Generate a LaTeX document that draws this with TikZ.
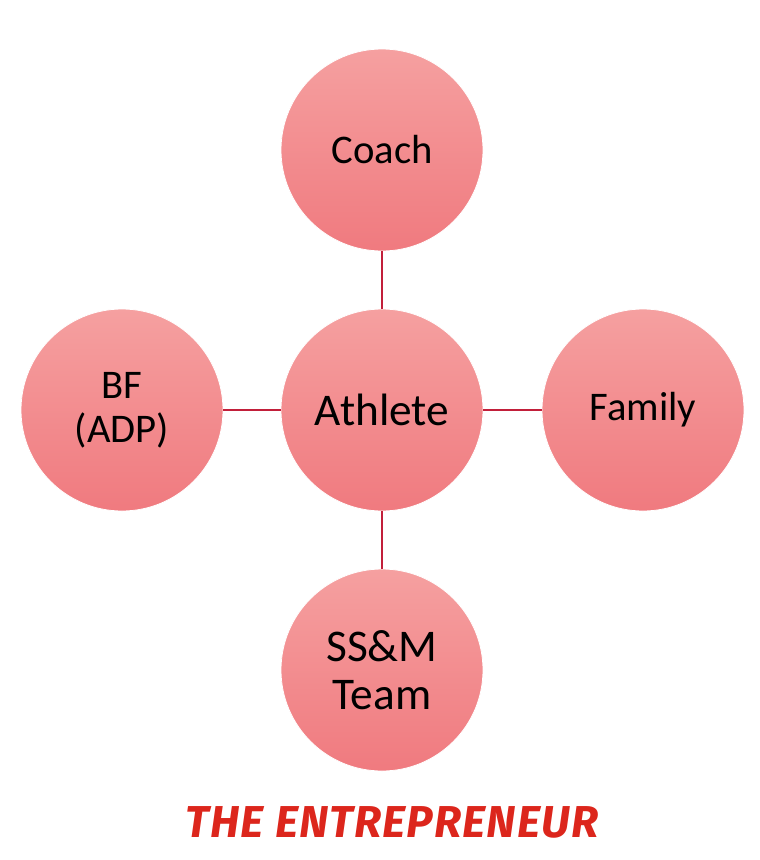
\documentclass[tikz,border=0pt]{standalone}
\usepackage{fontspec}
\setmainfont{Carlito}
\newfontfamily\titlefont[LetterSpace=2.5]{Fira Sans}
\usepackage{xcolor}
\usepackage{tikz}
\usetikzlibrary{positioning, shadings}

\definecolor{bubbletop}{HTML}{F5A0A0}
\definecolor{bubblebot}{HTML}{F07A7F}
\definecolor{linkred}{HTML}{C21F3A}
\definecolor{titlered}{HTML}{DC261C}

\begin{document}
\begin{tikzpicture}[x=0.75pt, y=-0.75pt,
    bubble/.style={circle, minimum size=151.5pt, inner sep=0pt, align=center,
      top color=bubbletop, bottom color=bubblebot, draw=white, line width=0.6pt,
      font=\fontsize{30.5}{33}\selectfont},
    link/.style={linkred, line width=1.5pt}]

    % 1. 画布
    \useasboundingbox (0,0) rectangle (760,860);

    % 2. 圆形节点
    \node[bubble, font=\fontsize{34}{36}\selectfont] (athlete) at (382,410) {Athlete};
    \node[bubble] (coach) at (382,150) {Coach};
    \node[bubble] (bf) at (122,410) {BF\\(ADP)};
    \node[bubble] (family) at (643,410) {Family};
    \node[bubble, font=\fontsize{34}{36}\selectfont] (ssm) at (382,670) {SS\&M\\Team};

    % 3. 连线
    \draw[link] (athlete) -- (coach);
    \draw[link] (athlete) -- (bf);
    \draw[link] (athlete) -- (family);
    \draw[link] (athlete) -- (ssm);

    % 4. 标题
    \node[text=titlered, font=\titlefont\fontsize{33.5}{36}\selectfont\bfseries\itshape] (title) at (392,822) {THE ENTREPRENEUR};

\end{tikzpicture}
\end{document}
